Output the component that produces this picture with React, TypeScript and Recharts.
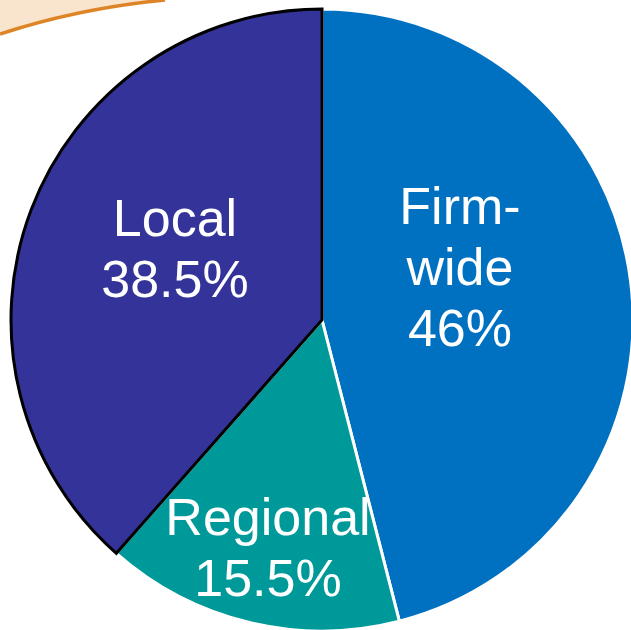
import React from 'react';
import { PieChart, Pie, Cell } from 'recharts';

const categories = ['Firm-wide', 'Regional', 'Local'];
const shares = [46, 15.5, 38.5];
const labelLines = [['Firm-', 'wide', '46%'], ['Regional', '15.5%'], ['Local', '38.5%']];

const COLORS = ['#0070C0', '#009999', '#333399'];
const STROKES = ['#FFFFFF', '#FFFFFF', '#000000'];
// label anchor (center x, first baseline y)
const LABEL_POS = [
  { x: 460, y: 224 },
  { x: 268, y: 535 },
  { x: 175, y: 236 },
];

const data = categories.map((name, i) => ({ name, value: shares[i] }));

const renderLabel = (props: any) => {
  const { index } = props;
  const pos = LABEL_POS[index];
  return (
    <text
      key={`lbl-${index}`}
      x={pos.x}
      y={pos.y}
      textAnchor="middle"
      fill="#FFFFFF"
      fontSize={52}
      fontFamily="'Liberation Sans', Arial, sans-serif"
    >
      {labelLines[index].map((line, j) => (
        <tspan key={j} x={pos.x} dy={j === 0 ? 0 : 61}>
          {line}
        </tspan>
      ))}
    </text>
  );
};

const App: React.FC = () => {
  return (
    <div style={{ position: 'absolute', left: 0, top: 0, width: 631, height: 630, background: '#FFFFFF' }}>
      <svg width={631} height={630} style={{ position: 'absolute', left: 0, top: 0 }}>
        <path d="M0,0 L0,34 Q80,8 165,0 Z" fill="#F9E5CE" />
        <path d="M0,34 Q80,8 165,0" fill="none" stroke="#DD8526" strokeWidth={3.5} />
      </svg>
      <div style={{ position: 'absolute', left: 0, top: 0 }}>
        <PieChart width={631} height={630} margin={{ top: 0, right: 0, bottom: 0, left: 0 }}>
          <Pie
            data={data}
            dataKey="value"
            nameKey="name"
            cx={322}
            cy={320}
            outerRadius={311}
            startAngle={90}
            endAngle={-270}
            labelLine={false}
            label={renderLabel}
            isAnimationActive={false}
          >
            {data.map((entry, index) => (
              <Cell key={`cell-${index}`} fill={COLORS[index]} stroke={STROKES[index]} strokeWidth={3} />
            ))}
          </Pie>
        </PieChart>
      </div>
    </div>
  );
};

export default App;
